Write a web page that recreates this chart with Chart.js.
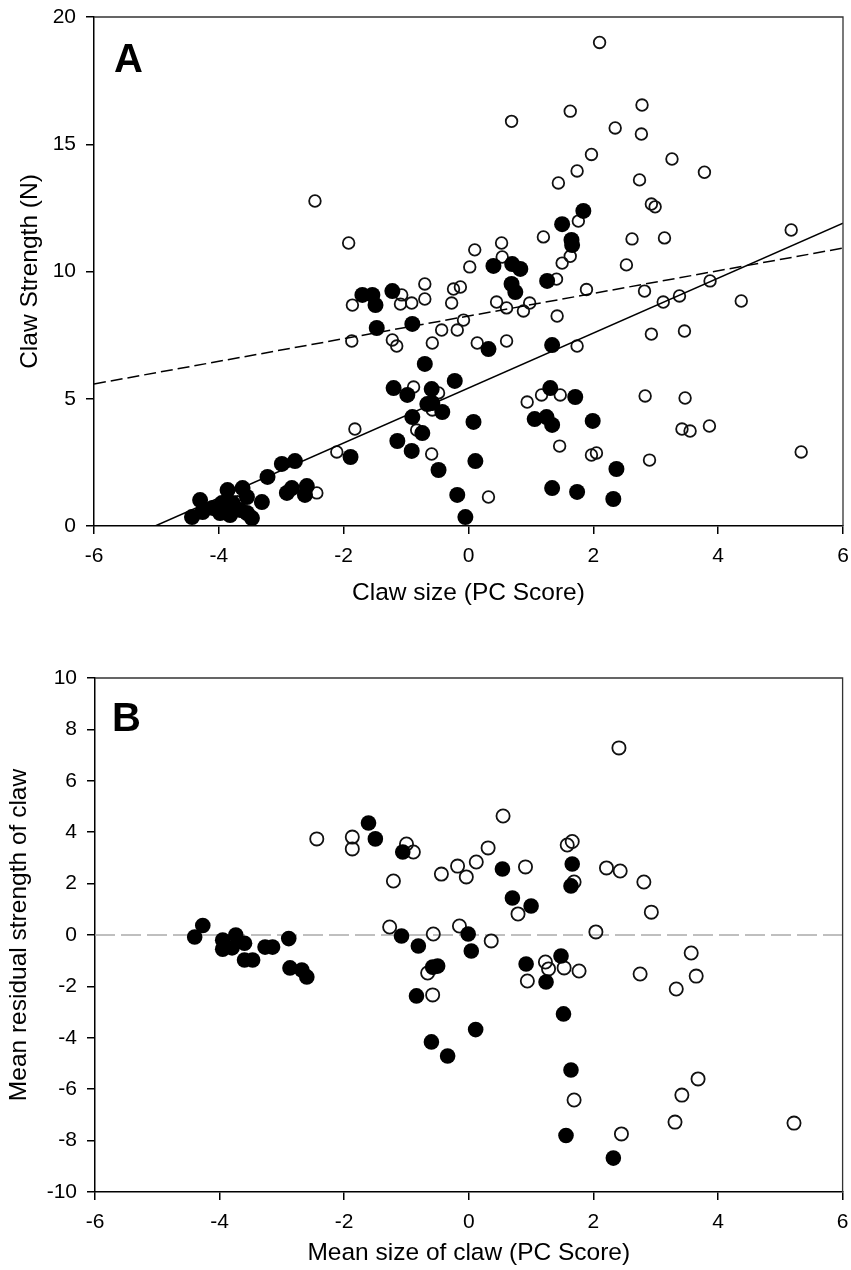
<!DOCTYPE html>
<html>
<head>
<meta charset="utf-8">
<script src="https://cdn.jsdelivr.net/npm/chart.js@4.4.0/dist/chart.umd.min.js"></script>
<style>
  body { margin: 0; background: #fff; }
  #page { position: relative; width: 851px; height: 1270px; }
  .panel { position: absolute; left: 0; }
  .tag { position: absolute; font: bold 40px "Liberation Sans", Arial, sans-serif; line-height: 40px; color: #000; }
</style>
</head>
<body>
<div id="page">
  <div class="panel" style="top:0"><canvas id="chartA" width="851" height="620"></canvas></div>
  <div class="panel" style="top:640px"><canvas id="chartB" width="851" height="630"></canvas></div>
  <div class="tag" style="left:114px; top:38px">A</div>
  <div class="tag" style="left:112px; top:697px">B</div>
</div>
<script>
// Panel A - claw strength vs claw size
const aFilledX = [1.50, 1.65, 1.66, 1.84, 0.40, 0.70, 0.83, 0.69, 0.75, 1.26, -1.70, -1.54, -1.22, -1.49, -1.47, -0.90,
  0.32, 1.34, -0.70, -0.22, -1.20, -0.98, -0.59, -0.66, -0.58, -0.42, -0.90, -0.74, 1.31, 1.71, 1.06, 1.25, 1.34, 0.08,
  1.99, -1.14, -0.91, 0.11, -0.48, -1.89, -2.78, -2.99, -3.22, -2.83, -2.59, -2.62, -2.91, -0.18, -0.05, 1.34, 1.74,
  2.37, 2.32, -4.30, -4.43, -4.26, -4.10, -3.86, -3.78, -3.82, -3.62, -3.55, -3.47, -3.31, -3.66, -3.98, -3.55, -3.95];
const aFilledY = [11.86, 11.24, 11.04, 12.38, 10.22, 10.29, 10.10, 9.51, 9.19, 9.63, 9.08, 9.08, 9.23, 8.68, 7.78, 7.94,
  6.95, 7.11, 6.37, 5.70, 5.42, 5.15, 5.38, 4.79, 4.83, 4.48, 4.28, 3.65, 5.42, 5.07, 4.20, 4.28, 3.97, 4.09,
  4.13, 3.34, 2.95, 2.55, 2.20, 2.71, 2.55, 2.44, 1.93, 1.49, 1.57, 1.22, 1.30, 1.22, 0.35, 1.49, 1.34,
  2.24, 1.06, 1.02, 0.35, 0.55, 0.71, 1.41, 0.90, 0.43, 1.49, 1.14, 0.31, 0.94, 0.63, 0.51, 0.51, 0.90];

const aOpenX = [2.10, 2.78, 1.63, 0.69, 2.35, 2.77, 1.97, 3.26, 1.74, 3.78, 2.74, 1.44, -2.46, 2.93, 2.99, 1.76, 5.17,
  1.20, 2.62, 3.14, -1.92, 0.53, 0.10, 0.54, 1.63, 1.50, 2.53, 0.02, 1.41, -0.70, -0.13, -0.24, 1.89, 2.82, 3.87,
  3.38, 3.12, 4.37, -1.07, -1.86, -1.09, -0.91, -0.70, -0.27, 0.45, 0.61, 0.88, 0.98, 1.42, -1.87, -1.22, -1.15,
  -0.58, -0.43, -0.18, -0.08, 0.14, 0.61, 1.74, 2.93, 3.46, -0.88, -0.48, -0.58, -0.83, 0.94, 1.17, 1.47, 2.83,
  3.47, 1.46, 3.42, 3.55, 3.86, 5.33, 1.97, 2.05, 2.90, -1.82, -0.59, -2.11, -2.43, 0.32, -3.70];
const aOpenY = [19.0, 16.54, 16.3, 15.9, 15.64, 15.4, 14.6, 14.42, 13.95, 13.9, 13.6, 13.48, 12.77, 12.65, 12.54, 11.98, 11.63,
  11.36, 11.28, 11.32, 11.12, 11.12, 10.85, 10.57, 10.6, 10.33, 10.26, 10.18, 9.7, 9.51, 9.39, 9.31, 9.29, 9.23, 9.63,
  9.04, 8.80, 8.84, 9.08, 8.68, 8.72, 8.76, 8.92, 8.76, 8.80, 8.57, 8.45, 8.76, 8.25, 7.27, 7.31, 7.07,
  7.19, 7.70, 7.70, 8.09, 7.19, 7.27, 7.07, 7.54, 7.66, 5.46, 5.23, 4.56, 3.77, 4.87, 5.15, 5.15, 5.11,
  5.03, 3.14, 3.81, 3.73, 3.93, 2.91, 2.79, 2.87, 2.59, 3.81, 2.83, 2.91, 1.30, 1.14, 0.95];

// fitted lines (end points)
const aSolidX = [-5.02, 6];
const aSolidY = [0, 11.9];
const aDashX = [-6, 6];
const aDashY = [5.58, 10.92];

// Panel B - residual strength vs mean size
const bFilledX = [-4.40, -4.27, -3.95, -3.95, -3.80, -3.74, -3.60, -3.60, -3.47, -3.27, -3.15, -2.89, -2.87, -2.68, -2.60,
  -1.61, -1.50, -1.06, -1.08, -0.81, -0.58, -0.50, -0.84, 0.54, 0.70, 1.00, -0.01, 0.04, 0.92, 1.24, 1.48, 1.66, 1.64,
  1.52, 0.11, -0.60, -0.34, 1.64, 1.56, 2.32];
const bFilledY = [-0.08, 0.37, -0.20, -0.55, -0.50, 0.00, -0.32, -0.97, -0.97, -0.47, -0.47, -0.14, -1.28, -1.36, -1.63,
  4.36, 3.74, 3.23, -0.04, -0.43, -1.25, -1.21, -2.37, 2.57, 1.44, 1.13, 0.04, -0.62, -1.13, -1.83, -0.82, 2.76, 1.91,
  -3.07, -3.68, -4.16, -4.71, -5.25, -7.80, -8.68];

const bOpenX = [-2.44, -1.87, -1.87, -1.00, -0.89, -1.21, -1.27, -0.57, -0.66, -0.58, -0.44, -0.18, -0.04, 0.12, 0.31,
  0.55, 0.91, 0.79, -0.15, 0.36, 0.94, 1.23, 1.28, 1.53, 1.77, 1.58, 1.66, 1.69, 2.41, 2.21, 2.43, 2.81, 2.93, 2.04,
  3.57, 3.65, 2.75, 3.33, 1.69, 2.45, 3.68, 3.42, 3.31, 5.22];
const bOpenY = [3.74, 3.81, 3.35, 3.54, 3.23, 2.10, 0.31, 0.04, -1.48, -2.33, 2.37, 2.68, 2.26, 2.84, 3.39,
  4.63, 2.65, 0.82, 0.35, -0.23, -1.79, -1.05, -1.32, -1.28, -1.40, 3.50, 3.64, 2.06, 7.28, 2.61, 2.49, 2.06, 0.89, 0.12,
  -0.70, -1.60, -1.52, -2.10, -6.42, -7.74, -5.60, -6.23, -7.28, -7.32];

const bZeroX = [-6, 6];
const bZeroY = [0, 0];

function pts(xs, ys) {
  return xs.map((x, i) => ({ x: x, y: ys[i] }));
}

// top and right edges of the plot box
const frame = {
  id: 'frame',
  afterDraw(chart) {
    const { ctx, chartArea: a } = chart;
    ctx.save();
    ctx.strokeStyle = '#333';
    ctx.lineWidth = 1.3;
    ctx.beginPath();
    ctx.moveTo(a.left, a.top);
    ctx.lineTo(a.right, a.top);
    ctx.lineTo(a.right, a.bottom);
    ctx.stroke();
    ctx.restore();
  }
};

function axis(min, max, step, title, size, titlePad) {
  return {
    type: 'linear',
    min: min, max: max,
    afterFit: s => {
      if (s.isHorizontal()) s.height = size; else s.width = size;
      s.paddingLeft = 0; s.paddingRight = 0; s.paddingTop = 0; s.paddingBottom = 0;
    },
    ticks: { stepSize: step, padding: 10, color: '#000', font: { family: 'Liberation Sans', size: 21 } },
    grid: { drawOnChartArea: false, drawTicks: true, tickLength: 8, color: '#000', tickColor: '#000', lineWidth: 1.5 },
    border: { display: true, color: '#000', width: 1.5 },
    title: { display: true, text: title, color: '#000', padding: titlePad, font: { family: 'Liberation Sans', size: 24.5 } }
  };
}

function lineSet(data, color, dash) {
  return { data: data, showLine: true, pointRadius: 0, borderColor: color, borderWidth: 1.5, borderDash: dash, fill: false };
}

const common = {
  responsive: false,
  animation: false,
  plugins: { legend: { display: false }, tooltip: { enabled: false } }
};

new Chart(document.getElementById('chartA'), {
  type: 'scatter',
  data: {
    datasets: [
      lineSet(pts(aSolidX, aSolidY), '#000', []),
      lineSet(pts(aDashX, aDashY), '#000', [12, 5]),
      { data: pts(aFilledX, aFilledY), pointRadius: 8, pointBorderWidth: 0, pointBackgroundColor: '#000', pointBorderColor: '#000' },
      { data: pts(aOpenX, aOpenY), pointRadius: 5.8, pointBorderWidth: 1.8, pointBackgroundColor: 'rgba(0,0,0,0)', pointBorderColor: '#111' }
    ]
  },
  options: {
    ...common,
    layout: { padding: { left: 0, right: 7, top: 17, bottom: 0 } },
    scales: {
      x: axis(-6, 6, 2, 'Claw size (PC Score)', 94, { top: 0, bottom: 12 }),
      y: axis(0, 20, 5, 'Claw Strength (N)', 94, { top: 16, bottom: 0 })
    }
  },
  plugins: [frame]
});

new Chart(document.getElementById('chartB'), {
  type: 'scatter',
  data: {
    datasets: [
      { data: pts(bFilledX, bFilledY), pointRadius: 7.8, pointBorderWidth: 0, pointBackgroundColor: '#000', pointBorderColor: '#000' },
      { data: pts(bOpenX, bOpenY), pointRadius: 6.6, pointBorderWidth: 1.8, pointBackgroundColor: 'rgba(0,0,0,0)', pointBorderColor: '#111' },
      lineSet(pts(bZeroX, bZeroY), '#aaa', [20, 6])
    ]
  },
  options: {
    ...common,
    layout: { padding: { left: 0, right: 7, top: 38, bottom: 0 } },
    scales: {
      x: axis(-6, 6, 2, 'Mean size of claw (PC Score)', 78, { top: 0, bottom: 2 }),
      y: axis(-10, 10, 2, 'Mean residual strength of claw', 95, { top: 5, bottom: 0 })
    }
  },
  plugins: [frame]
});
</script>
</body>
</html>
